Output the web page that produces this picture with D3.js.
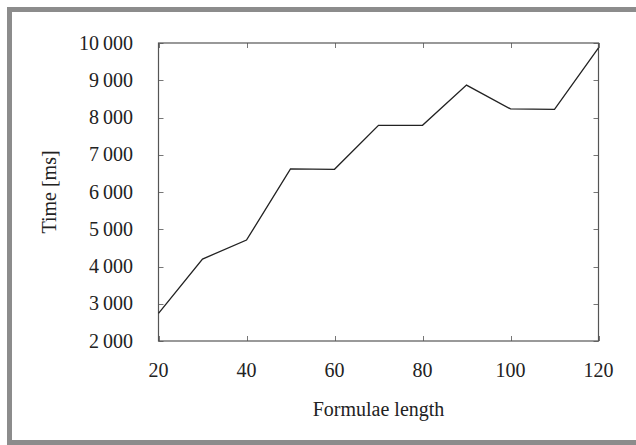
<!DOCTYPE html>
<html>
<head>
<meta charset="utf-8">
<script src="https://cdn.jsdelivr.net/npm/d3@7"></script>
<style>
  body { margin: 0; background: #fff; }
  svg { display: block; font-family: "Liberation Serif", "Times New Roman", serif; }
</style>
</head>
<body>
<div id="chart"></div>
<script>
// formula length vs. time
var lengths = [20, 30, 40, 50, 60, 70, 80, 90, 100, 110, 120];
var times = [2740, 4200, 4710, 6620, 6610, 7790, 7790, 8870, 8230, 8220, 9870];
var xTicks = [20, 40, 60, 80, 100, 120];
var yTicks = [2000, 3000, 4000, 5000, 6000, 7000, 8000, 9000, 10000];

function fmt(v) {
    // thin-space thousands separator like the original
    return d3.format(",")(v).replace(/,/g, "\u2009");
}

function draw() {
    var w = 636, h = 445;
    var m = { left: 158.5, right: 598.5, top: 43, bottom: 341 };
    var svg = d3.select("#chart").append("svg")
        .attr("width", w)
        .attr("height", h);

    svg.append("rect")
        .attr("x", 9.5).attr("y", 9.5)
        .attr("width", 700).attr("height", 433)
        .attr("fill", "none")
        .attr("stroke", "#8c8c8c")
        .attr("stroke-width", 5);

    var x = d3.scaleLinear().domain([20, 120]).range([m.left, m.right]);
    var y = d3.scaleLinear().domain([2000, 10000]).range([m.bottom, m.top]);

    // inward ticks on all four sides
    var tk = 5;
    var g = svg.append("g").attr("stroke", "#777").attr("stroke-width", 1);
    for (var i = 0; i < yTicks.length; i++) {
        var yy = Math.round(y(yTicks[i])) + 0.5;
        g.append("line").attr("x1", m.left).attr("x2", m.left + tk).attr("y1", yy).attr("y2", yy);
        g.append("line").attr("x1", m.right).attr("x2", m.right - tk).attr("y1", yy).attr("y2", yy);
        svg.append("text")
            .attr("x", 133).attr("y", y(yTicks[i]))
            .attr("dy", "0.33em")
            .attr("text-anchor", "end")
            .attr("font-size", 20)
            .attr("fill", "#222")
            .text(fmt(yTicks[i]));
    }
    for (var j = 0; j < xTicks.length; j++) {
        var xx = Math.round(x(xTicks[j])) + 0.5;
        g.append("line").attr("x1", xx).attr("x2", xx).attr("y1", m.bottom).attr("y2", m.bottom - tk);
        g.append("line").attr("x1", xx).attr("x2", xx).attr("y1", m.top).attr("y2", m.top + tk);
        svg.append("text")
            .attr("x", x(xTicks[j])).attr("y", 376.5)
            .attr("text-anchor", "middle")
            .attr("font-size", 20)
            .attr("fill", "#222")
            .text(xTicks[j]);
    }

    svg.append("rect")
        .attr("x", m.left).attr("y", m.top)
        .attr("width", m.right - m.left).attr("height", m.bottom - m.top)
        .attr("fill", "none")
        .attr("stroke", "#555")
        .attr("stroke-width", 1.2);

    var line = d3.line()
        .x(function(d, i) { return x(lengths[i]); })
        .y(function(d) { return y(d); });
    svg.append("path")
        .datum(times)
        .attr("d", line)
        .attr("fill", "none")
        .attr("stroke", "#222")
        .attr("stroke-width", 1.3);

    svg.append("text")
        .attr("x", (m.left + m.right) / 2).attr("y", 416)
        .attr("text-anchor", "middle")
        .attr("font-size", 20)
        .attr("fill", "#222")
        .text("Formulae length");

    svg.append("text")
        .attr("transform", "translate(56," + ((m.top + m.bottom) / 2) + ") rotate(-90)")
        .attr("text-anchor", "middle")
        .attr("font-size", 20)
        .attr("fill", "#222")
        .text("Time [ms]");
}
draw();
</script>
</body>
</html>
